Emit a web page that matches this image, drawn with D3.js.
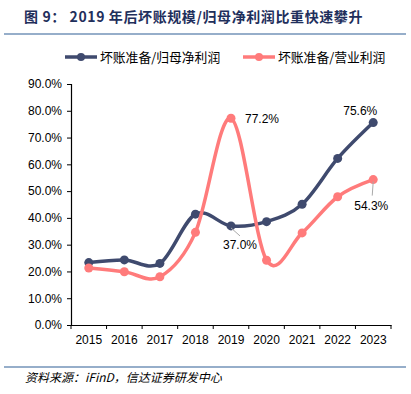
<!DOCTYPE html>
<html>
<head>
<meta charset="utf-8">
<script src="https://cdn.jsdelivr.net/npm/d3@7"></script>
<style>
  body { margin: 0; background: #fff; }
  text { font-family: "Liberation Sans", Arial, sans-serif; }
  .cjk { font-family: "Noto Sans CJK SC", sans-serif; }
</style>
</head>
<body>
<div id="chart"></div>
<script>
const years = ['2015', '2016', '2017', '2018', '2019', '2020', '2021', '2022', '2023'];
const badDebtToNetProfit = [23.3, 24.3, 23.0, 41.4, 37.0, 38.6, 45.1, 62.2, 75.6];
const badDebtToOpProfit = [21.3, 19.9, 18.0, 34.6, 77.2, 24.2, 34.4, 47.9, 54.3];
const yTicks = [0, 10, 20, 30, 40, 50, 60, 70, 80, 90];
const seriesNames = ['坏账准备/归母净利润', '坏账准备/营业利润'];

const W = 411, H = 394;
const plotLeft = 71, plotRight = 391, plotTop = 84, plotBottom = 325;
const colors = ['#3f4a6e', '#ff7b7b'];

const svg = d3.select('#chart').append('svg')
  .attr('width', W).attr('height', H);

// title
svg.append('text')
  .attr('class', 'cjk')
  .attr('x', 24).attr('y', 22)
  .attr('font-size', 14)
  .attr('font-weight', 'bold')
  .attr('letter-spacing', 0.6)
  .attr('fill', '#1f2f5c')
  .text('图 9： 2019 年后坏账规模/归母净利润比重快速攀升');
svg.append('line')
  .attr('x1', 4).attr('x2', 406).attr('y1', 34).attr('y2', 34)
  .attr('stroke', '#7393b9').attr('stroke-width', 1.5);

// scales
const x = d3.scaleBand().domain(years).range([plotLeft, plotRight]);
const y = d3.scaleLinear().domain([0, 90]).range([plotBottom, plotTop]);

// y axis
const yAxis = svg.append('g')
  .attr('transform', `translate(${plotLeft},0)`)
  .call(d3.axisLeft(y).tickValues(yTicks).tickSize(4).tickFormat(d => d.toFixed(1) + '%'));
yAxis.selectAll('text').attr('font-size', 12).attr('fill', '#000').attr('dx', -2)
  .style('font-family', '"Liberation Sans", Arial, sans-serif');

// x axis
const xAxis = svg.append('g')
  .attr('transform', `translate(0,${plotBottom})`)
  .call(d3.axisBottom(x).tickSize(0).tickPadding(10));
xAxis.selectAll('text').attr('font-size', 12).attr('fill', '#000')
  .style('font-family', '"Liberation Sans", Arial, sans-serif');
xAxis.selectAll('.tick-mark')
  .data(d3.range(years.length + 1))
  .enter().append('line')
  .attr('x1', i => plotLeft + i * x.step()).attr('x2', i => plotLeft + i * x.step())
  .attr('y1', 0).attr('y2', 4)
  .attr('stroke', '#000');
svg.selectAll('.domain').attr('stroke', '#000').attr('stroke-width', 1.2);

// lines
const cx = d => x(d) + x.bandwidth() / 2;
const line = d3.line()
  .x((d, i) => cx(years[i]))
  .y(d => y(d))
  .curve(d3.curveCardinal.tension(0));

[badDebtToNetProfit, badDebtToOpProfit].forEach((vals, k) => {
  svg.append('path')
    .datum(vals)
    .attr('d', line)
    .attr('fill', 'none')
    .attr('stroke', colors[k])
    .attr('stroke-width', 3.5);
  svg.append('g').selectAll('circle')
    .data(vals)
    .enter().append('circle')
    .attr('cx', (d, i) => cx(years[i]))
    .attr('cy', d => y(d))
    .attr('r', 4.5)
    .attr('fill', colors[k]);
});

// data labels
const labels = [
  { v: badDebtToOpProfit[4], i: 4, dx: 31, dy: 5, lead: false },
  { v: badDebtToNetProfit[4], i: 4, dx: 9, dy: 23, lead: true },
  { v: badDebtToNetProfit[8], i: 8, dx: -13, dy: -8, lead: false },
  { v: badDebtToOpProfit[8], i: 8, dx: -2, dy: 30, lead: true }
];
labels.forEach(l => {
  const px = cx(years[l.i]), py = y(l.v);
  if (l.lead) {
    svg.append('line')
      .attr('x1', px).attr('y1', py + 2)
      .attr('x2', px + (l.dx > 3 ? 9 : -1)).attr('y2', py + (l.dx > 3 ? 10 : 16))
      .attr('stroke', '#aaa').attr('stroke-width', 1);
  }
  svg.append('text')
    .attr('x', px + l.dx).attr('y', py + l.dy)
    .attr('text-anchor', 'middle')
    .attr('font-size', 12)
    .attr('fill', '#000')
    .text(l.v.toFixed(1) + '%');
});

// legend
const legendX = [65, 243];
seriesNames.forEach((name, k) => {
  const g = svg.append('g').attr('transform', `translate(${legendX[k]},57)`);
  g.append('line').attr('x1', 0).attr('x2', 32).attr('y1', 0).attr('y2', 0)
    .attr('stroke', colors[k]).attr('stroke-width', 3.5);
  g.append('circle').attr('cx', 16).attr('cy', 0).attr('r', 4).attr('fill', colors[k]);
  g.append('text').attr('class', 'cjk').attr('x', 35).attr('y', 4.5)
    .attr('font-size', 12.8).attr('fill', '#000').text(name);
});

// footer
svg.append('line')
  .attr('x1', 4).attr('x2', 406).attr('y1', 367).attr('y2', 367)
  .attr('stroke', '#7393b9').attr('stroke-width', 1.5);
svg.append('text')
  .attr('class', 'cjk')
  .attr('x', 25).attr('y', 382)
  .attr('font-size', 12)
  .attr('font-style', 'italic')
  .attr('fill', '#000')
  .text('资料来源：iFinD，信达证券研发中心');
</script>
</body>
</html>
